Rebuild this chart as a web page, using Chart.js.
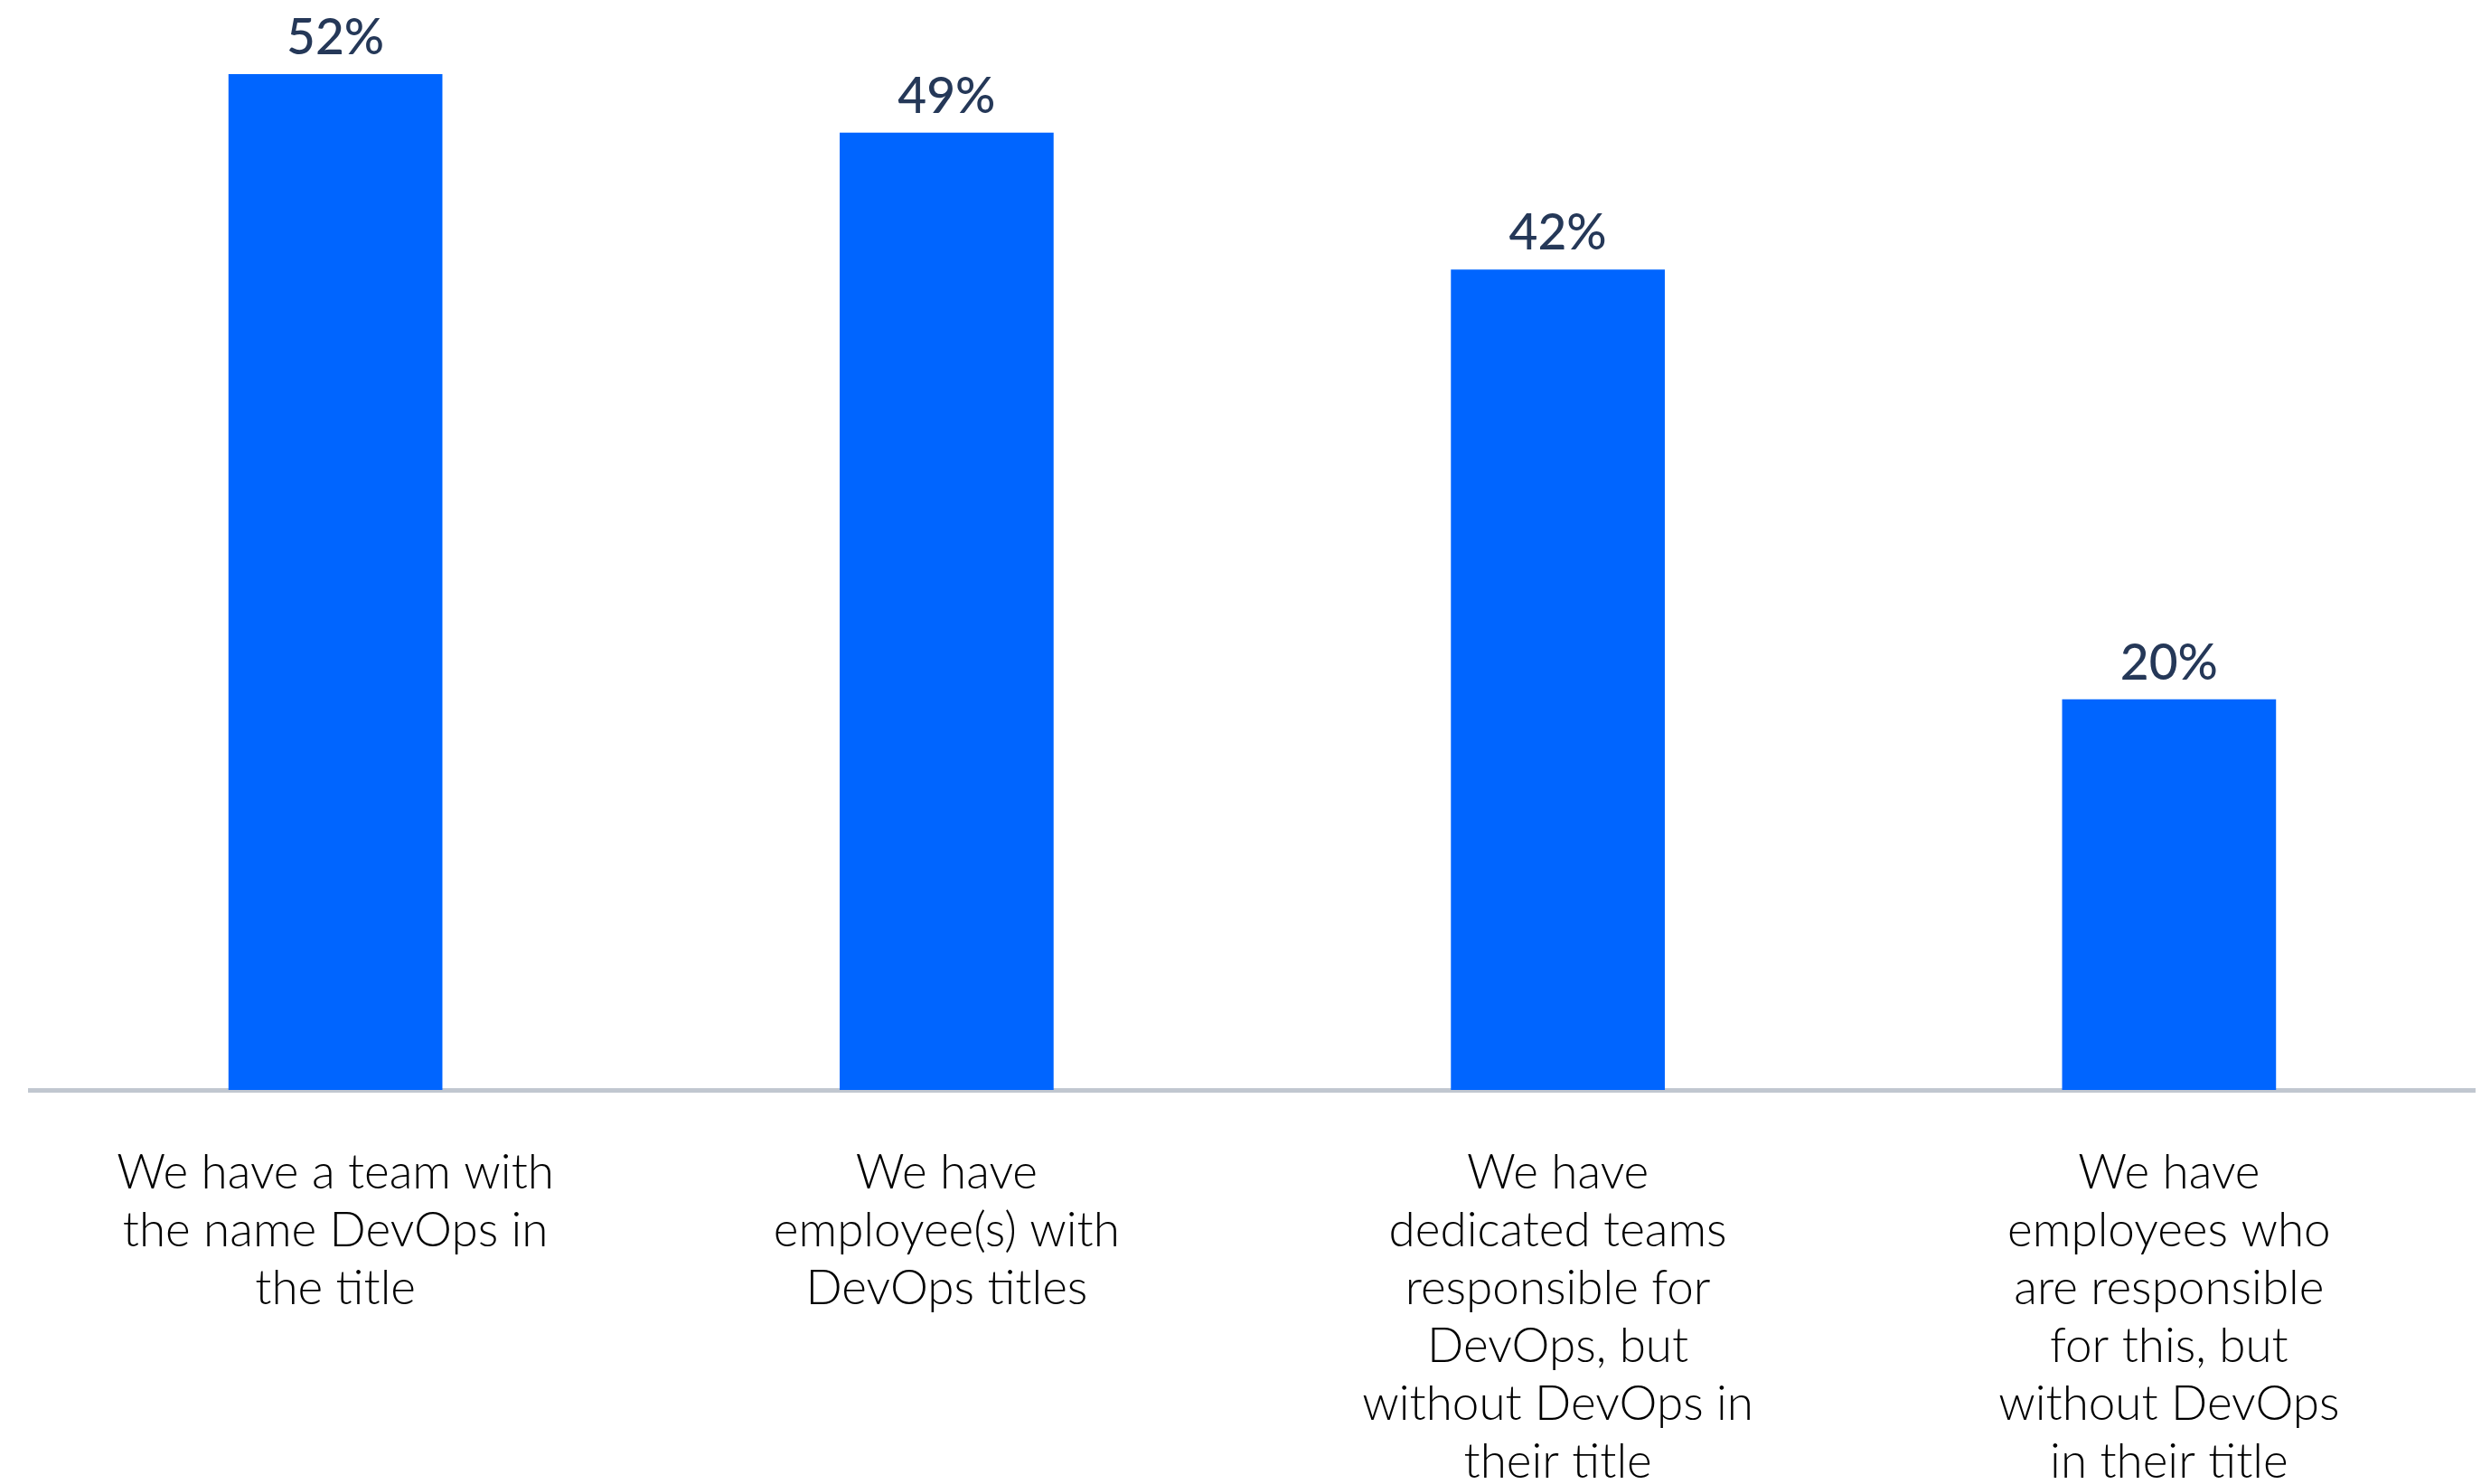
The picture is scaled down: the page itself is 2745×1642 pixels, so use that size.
<!DOCTYPE html>
<html>
<head>
<meta charset="utf-8">
<script src="https://cdn.jsdelivr.net/npm/chart.js@4"></script>
<style>
  html, body { margin: 0; padding: 0; background: #ffffff; }
  #wrap { width: 2745px; height: 1642px; }
</style>
</head>
<body>
<div id="wrap"><canvas id="c" width="2745" height="1642"></canvas></div>
<script>
const categories = [
  ["We have a team with", "the name DevOps in", "the title"],
  ["We have", "employee(s) with", "DevOps titles"],
  ["We have", "dedicated teams", "responsible for", "DevOps, but", "without DevOps in", "their title"],
  ["We have", "employees who", "are responsible", "for this, but", "without DevOps", "in their title"]
];
const values = [52, 49, 42, 20];
const valueLabels = ["52%", "49%", "42%", "20%"];

const valueLabelPlugin = {
  id: 'valueLabels',
  afterDatasetsDraw(chart) {
    const ctx = chart.ctx;
    const meta = chart.getDatasetMeta(0);
    ctx.save();
    ctx.fillStyle = '#253858';
    ctx.font = '500 55px Lato';
    ctx.textAlign = 'center';
    ctx.textBaseline = 'alphabetic';
    meta.data.forEach((bar, i) => {
      ctx.fillText(valueLabels[i], bar.x, bar.y - 22);
    });
    ctx.restore();
  }
};

new Chart(document.getElementById('c'), {
  type: 'bar',
  data: {
    labels: categories,
    datasets: [{
      data: values,
      backgroundColor: '#0065FF',
      borderWidth: 0,
      barPercentage: 0.7,
      categoryPercentage: 0.5
    }]
  },
  options: {
    responsive: false,
    animation: false,
    layout: { padding: { top: 82, left: 33, right: 7, bottom: -68 } },
    plugins: { legend: { display: false }, tooltip: { enabled: false } },
    scales: {
      x: {
        grid: { display: false, drawTicks: false },
        border: { display: true, color: '#C1C7D0', width: 5 },
        ticks: {
          color: '#000000',
          padding: 60,
          maxRotation: 0,
          autoSkip: false,
          font: { family: 'Lato', size: 53, weight: '300', lineHeight: 1.2075 }
        }
      },
      y: {
        display: false,
        min: 0,
        max: 52
      }
    }
  },
  plugins: [valueLabelPlugin]
});
</script>
</body>
</html>
